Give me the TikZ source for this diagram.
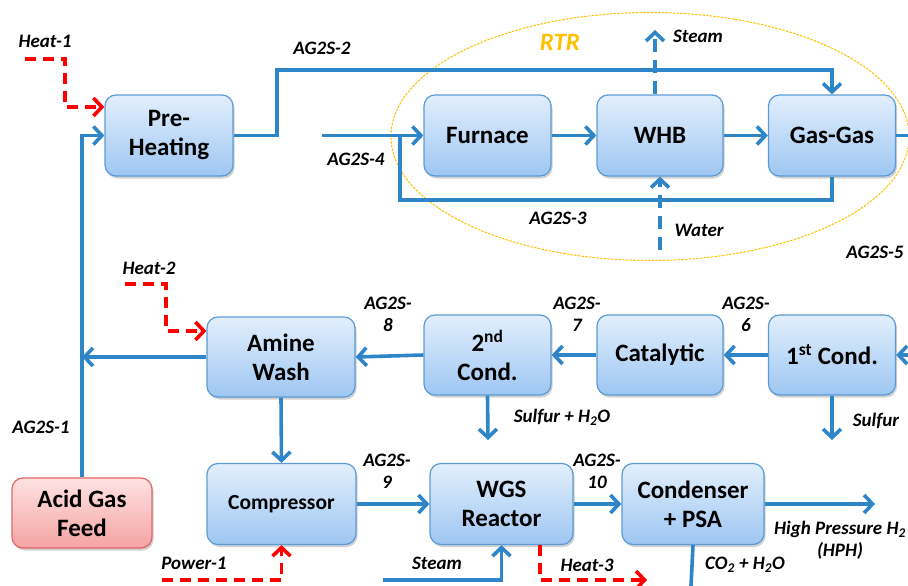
\documentclass[tikz,border=0pt]{standalone}
\usepackage{fontspec}
\setmainfont{Carlito}
\usetikzlibrary{arrows.meta,shadows,shapes.geometric}
\definecolor{flow}{HTML}{2E86C8}
\definecolor{boxline}{HTML}{5B9BD5}
\definecolor{boxtop}{HTML}{E2EFFC}
\definecolor{boxbot}{HTML}{9EC6F2}
\definecolor{feedline}{HTML}{E06666}
\definecolor{feedtop}{HTML}{FFE2E2}
\definecolor{feedbot}{HTML}{F5A3A3}
\definecolor{gold}{HTML}{FFC000}
\definecolor{heatred}{HTML}{FF0000}
\tikzset{
  proc/.style={draw=boxline, line width=1.2pt, rounded corners=11pt,
    top color=boxtop, bottom color=boxbot, align=center,
    font=\fontsize{25}{29}\selectfont\bfseries, inner sep=2pt,
    drop shadow={opacity=0.3, shadow xshift=1.5pt, shadow yshift=-2.5pt, fill=black!60}},
  feedbox/.style={proc, draw=feedline, top color=feedtop, bottom color=feedbot},
  lab/.style={font=\fontsize{19}{22}\selectfont\bfseries\itshape, align=center, inner sep=0pt},
  tipa/.style={-{Straight Barb[length=8.5pt,width=18pt]}},
  flowplain/.style={draw=flow, line width=3.6pt},
  flowarrow/.style={flowplain, tipa},
  dashflow/.style={flowarrow, dash pattern=on 13pt off 8pt},
  heatline/.style={draw=heatred, line width=3.6pt, dash pattern=on 11pt off 7pt, tipa},
}
\begin{document}
\begin{tikzpicture}[x=1pt,y=-1pt]
\useasboundingbox (0,0) rectangle (908,586);
% RTR ellipse
\node[ellipse, draw=gold, line width=1pt, dash pattern=on 2.5pt off 1.2pt,
  minimum width=518pt, minimum height=248pt, inner sep=0pt] (rtr) at (650,136.5) {};
\node[lab, text=gold, font=\fontsize{25}{29}\selectfont\bfseries\itshape] (rtrlab) at (560,42) {RTR};

% boxes
\node[proc, minimum width=128pt, minimum height=81pt] (pre) at (169,135.5) {Pre-\\Heating};
\node[proc, minimum width=127pt, minimum height=81pt] (furnace) at (487.5,135.5) {Furnace};
\node[proc, minimum width=126pt, minimum height=81pt] (whb) at (660,135.5) {WHB};
\node[proc, minimum width=127pt, minimum height=81pt] (gas) at (832,135.5) {Gas-Gas};
\node[proc, minimum width=148pt, minimum height=80pt] (amine) at (281,357) {Amine\\Wash};
\node[proc, minimum width=127pt, minimum height=80pt] (cond2) at (487.5,355) {2\textsuperscript{nd}\\Cond.};
\node[proc, minimum width=126pt, minimum height=80pt] (cat) at (660,355) {Catalytic};
\node[proc, minimum width=127pt, minimum height=80pt] (cond1) at (832,355) {1\textsuperscript{st} Cond.};
\node[feedbox, minimum width=140pt, minimum height=70pt] (feed) at (82,513) {Acid Gas\\Feed};
\node[proc, minimum width=149pt, minimum height=81pt, font=\fontsize{21.5}{25}\selectfont\bfseries] (comp) at (281.5,504) {Compressor};
\node[proc, minimum width=143pt, minimum height=81pt] (wgs) at (501.5,504) {WGS\\Reactor};
\node[proc, minimum width=142pt, minimum height=81pt] (psa) at (693,504) {Condenser\\+ PSA};

% coordinates
\coordinate (b2a) at (277,70);
\coordinate (in4) at (322,135.5);
\coordinate (lp) at (400,200);
\coordinate (lj) at (400,135.5);
\coordinate (st1) at (655,30);
\coordinate (w1) at (660,250);
\coordinate (g5) at (908,135.5);
\coordinate (c5) at (908,355);
\coordinate (s2) at (488,440);
\coordinate (s1) at (832,440);
\coordinate (hph) at (875,504);
\coordinate (co2) at (691,586);
\coordinate (st2) at (383,580);
\coordinate (h1a) at (25,59);
\coordinate (h1b) at (65,107);
\coordinate (h2a) at (125,284);
\coordinate (h2b) at (166,331);
\coordinate (p1) at (162,580);
\coordinate (h3c) at (540,580);
\coordinate (h3e) at (647,580);

% blue flows
\draw[flowarrow] (feed.north) |- (pre.west);
\draw[flowarrow] (pre.east) -| (b2a) -| (gas.north);
\draw[flowarrow] (in4) -- (furnace.west);
\draw[flowplain] (gas.south) |- (lp) -- (lj);
\draw[flowarrow] (furnace.east) -- (whb.west);
\draw[flowarrow] (whb.east) -- (gas.west);
\draw[dashflow] (whb.north -| st1) -- (st1);
\draw[dashflow] (w1) -- (whb.south);
\draw[flowplain] (gas.east) -- (g5);
\draw[flowarrow] (c5) -- (cond1.east);
\draw[flowarrow] (cond1.west) -- (cat.east);
\draw[flowarrow] (cat.west) -- (cond2.east);
\draw[flowarrow] (cond2.west) -- (amine.east);
\draw[flowarrow] (amine.west) -- (amine.west -| feed.north);
\draw[flowarrow] (amine.south) -- (comp.north);
\draw[flowarrow] (cond2.south) -- (s2);
\draw[flowarrow] (cond1.south) -- (s1);
\draw[flowarrow] (comp.east) -- (wgs.west);
\draw[flowarrow] (wgs.east) -- (psa.west);
\draw[flowarrow] (psa.east) -- (hph);
\draw[flowplain] (psa.south) -- (co2);
\draw[flowarrow] (st2) -| (wgs.south);

% red energy flows
\draw[heatline] (h1a) -| (h1b) -- (h1b -| pre.west);
\draw[heatline] (h2a) -| (h2b) -- (h2b -| amine.west);
\draw[heatline] (p1) -| (comp.south);
\draw[heatline] (wgs.south -| h3c) -- (h3c) -- (h3e);

% labels
\node[lab] (l1) at (45,41) {Heat-1};
\node[lab] (l2) at (322,48) {AG2S-2};
\node[lab] (l4) at (356,159) {AG2S-4};
\node[lab] (l3) at (558,218) {AG2S-3};
\node[lab] (lst) at (698,36) {Steam};
\node[lab] (lw) at (699,230) {Water};
\node[lab] (l5) at (875,252) {AG2S-5};
\node[lab] (lh2) at (149,268) {Heat-2};
\node[lab] (l8) at (388,314) {AG2S-\\8};
\node[lab] (l7) at (577,314) {AG2S-\\7};
\node[lab] (l6) at (746,314) {AG2S-\\6};
\node[lab] (l1b) at (41,427) {AG2S-1};
\node[lab] (ls2) at (562,417) {Sulfur + H\textsubscript{2}O};
\node[lab] (ls1) at (876,421) {Sulfur};
\node[lab] (l9) at (387,471) {AG2S-\\9};
\node[lab] (l10) at (597,471) {AG2S-\\10};
\node[lab] (lhph) at (840,540) {High Pressure H\textsubscript{2}\\(HPH)};
\node[lab] (lp1) at (194,563) {Power-1};
\node[lab] (lst2) at (437,563) {Steam};
\node[lab] (lh3) at (587,565) {Heat-3};
\node[lab] (lco2) at (745,565) {CO\textsubscript{2} + H\textsubscript{2}O};
\end{tikzpicture}
\end{document}
